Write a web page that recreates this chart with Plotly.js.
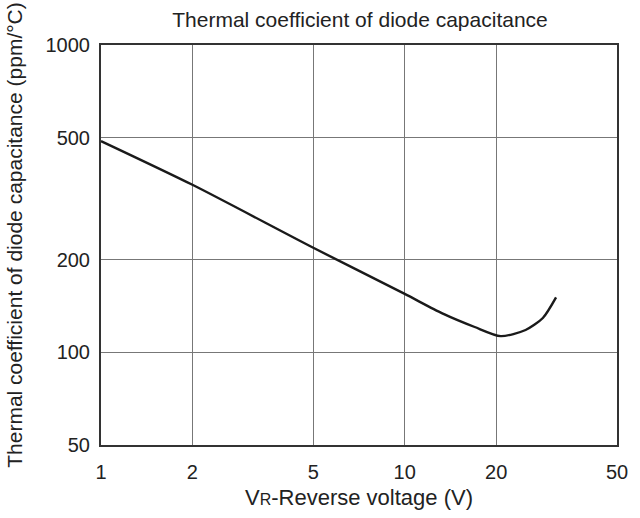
<!DOCTYPE html>
<html><head><meta charset="utf-8">
<script src="https://cdn.plot.ly/plotly-3.0.1.min.js"></script>
<style>body{margin:0;background:#fff}#chart{width:640px;height:518px}</style>
</head><body><div id="chart"></div>
<script>
const voltage = [1, 2, 5, 10, 13.3, 17, 20.7, 25, 28.5, 31.5];
const tcCap = [487, 351, 219, 155, 134, 121, 113, 118.3, 129.4, 151];
const xTicks = [1, 2, 5, 10, 20, 50];
const yTicks = [50, 100, 200, 500, 1000];

const fam = 'Liberation Sans, Arial, sans-serif';
const txt = '#222';
Plotly.newPlot('chart', [{
  x: voltage, y: tcCap, type: 'scatter', mode: 'lines',
  line: {color: '#1a1a1a', width: 2.4, shape: 'spline', smoothing: 0.7},
  hoverinfo: 'skip'
}], {
  width: 640, height: 518,
  margin: {l: 101, r: 23, t: 45, b: 73},
  paper_bgcolor: '#fff', plot_bgcolor: '#fff',
  showlegend: false,
  font: {family: fam, color: txt},
  title: {text: 'Thermal coefficient of diode capacitance', font: {size: 21, family: fam, color: txt}, x: 0.5625, xanchor: 'center', y: 0.963, yanchor: 'middle'},
  xaxis: {
    type: 'log', range: [0, Math.log10(50)],
    tickvals: xTicks, ticktext: xTicks.map(String),
    tickfont: {size: 20, family: fam, color: txt},
    showgrid: true, gridcolor: '#777', gridwidth: 1,
    showline: true, linecolor: '#333', linewidth: 2, mirror: true,
    ticks: '', zeroline: false, ticklabelstandoff: 8,
    title: {text: 'V<span style="font-size:16px">R</span>-Reverse voltage (V)', font: {size: 22, family: fam, color: txt}, standoff: 8}
  },
  yaxis: {
    type: 'log', range: [Math.log10(50), 3],
    tickvals: yTicks, ticktext: yTicks.map(String),
    tickfont: {size: 20, family: fam, color: txt},
    showgrid: true, gridcolor: '#777', gridwidth: 1,
    showline: true, linecolor: '#333', linewidth: 2, mirror: true,
    ticks: '', zeroline: false, ticklabelstandoff: 5
  },
  annotations: [{
    text: 'Thermal coefficient of diode capacitance (ppm/°C)',
    xref: 'paper', yref: 'paper', x: -0.169, y: 0.525,
    xanchor: 'center', yanchor: 'middle', textangle: -90, showarrow: false,
    font: {size: 21, family: fam, color: txt}
  }]
}, {displayModeBar: false, staticPlot: true});
</script></body></html>
